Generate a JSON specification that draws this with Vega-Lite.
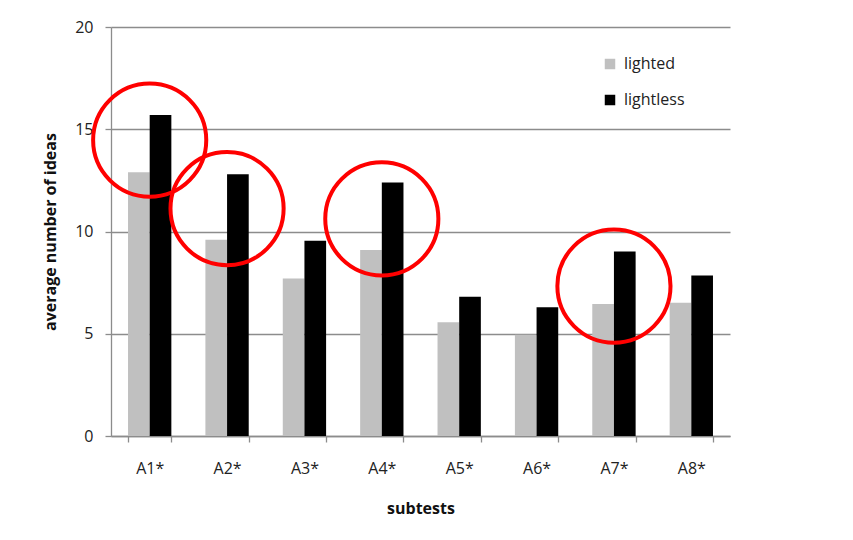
{
  "$schema": "https://vega.github.io/schema/vega-lite/v6.json",
  "width": 619,
  "height": 409,
  "autosize": {"type": "none"},
  "padding": {"left": 111, "top": 27, "right": 123, "bottom": 104},
  "background": "white",
  "datasets": {
    "ideas": [
      {"subtest": "A1*", "condition": "lighted", "ideas": 12.9},
      {"subtest": "A1*", "condition": "lightless", "ideas": 15.7},
      {"subtest": "A2*", "condition": "lighted", "ideas": 9.6},
      {"subtest": "A2*", "condition": "lightless", "ideas": 12.8},
      {"subtest": "A3*", "condition": "lighted", "ideas": 7.7},
      {"subtest": "A3*", "condition": "lightless", "ideas": 9.55},
      {"subtest": "A4*", "condition": "lighted", "ideas": 9.1},
      {"subtest": "A4*", "condition": "lightless", "ideas": 12.4},
      {"subtest": "A5*", "condition": "lighted", "ideas": 5.56},
      {"subtest": "A5*", "condition": "lightless", "ideas": 6.81},
      {"subtest": "A6*", "condition": "lighted", "ideas": 4.95},
      {"subtest": "A6*", "condition": "lightless", "ideas": 6.29},
      {"subtest": "A7*", "condition": "lighted", "ideas": 6.45},
      {"subtest": "A7*", "condition": "lightless", "ideas": 9.02},
      {"subtest": "A8*", "condition": "lighted", "ideas": 6.52},
      {"subtest": "A8*", "condition": "lightless", "ideas": 7.85}
    ],
    "highlights": [
      {"subtest": "A1*", "center": 14.47},
      {"subtest": "A2*", "center": 11.12},
      {"subtest": "A4*", "center": 10.62},
      {"subtest": "A7*", "center": 7.33}
    ]
  },
  "config": {
    "font": "Open Sans",
    "view": {"stroke": null},
    "axis": {
      "labelFont": "Open Sans",
      "labelFontSize": 16,
      "labelColor": "#222222",
      "titleFont": "Open Sans",
      "titleFontSize": 16,
      "titleFontWeight": "bold",
      "titleColor": "#111111",
      "domainColor": "#8c8c8c",
      "tickColor": "#8c8c8c",
      "gridColor": "#8c8c8c",
      "domainWidth": 1.3,
      "tickWidth": 1.3,
      "gridWidth": 1.3
    }
  },
  "layer": [
    {
      "data": {"name": "ideas"},
      "mark": {"type": "bar"},
      "encoding": {
        "x": {
          "field": "subtest",
          "type": "nominal",
          "sort": null,
          "scale": {"paddingInner": 0.44, "paddingOuter": 0.22},
          "axis": {
            "title": "subtests",
            "labelAngle": 0,
            "tickBand": "extent",
            "tickSize": 6,
            "labelPadding": 18,
            "titlePadding": 24,
            "grid": false
          }
        },
        "xOffset": {
          "field": "condition",
          "type": "nominal",
          "scale": {"domain": ["lighted", "lightless"], "paddingInner": 0}
        },
        "y": {
          "field": "ideas",
          "type": "quantitative",
          "scale": {"domain": [0, 20], "nice": false},
          "axis": {
            "title": "average number of ideas",
            "values": [0, 5, 10, 15, 20],
            "tickSize": 6,
            "labelPadding": 12,
            "titlePadding": 16,
            "grid": true
          }
        },
        "color": {
          "field": "condition",
          "type": "nominal",
          "scale": {"domain": ["lighted", "lightless"], "range": ["#c0c0c0", "#000000"]},
          "legend": {
            "title": null,
            "orient": "none",
            "legendX": 491,
            "legendY": 29,
            "padding": 0,
            "symbolType": "square",
            "symbolSize": 110,
            "symbolStrokeWidth": 0,
            "labelFont": "Open Sans",
            "labelFontSize": 16,
            "labelColor": "#222222",
            "labelOffset": 6,
            "rowPadding": 20
          }
        }
      }
    },
    {
      "data": {"name": "highlights"},
      "mark": {
        "type": "point",
        "shape": "circle",
        "filled": false,
        "stroke": "#ff0000",
        "strokeWidth": 4,
        "size": 12800,
        "opacity": 1
      },
      "encoding": {
        "x": {"field": "subtest", "type": "nominal", "sort": null},
        "y": {"field": "center", "type": "quantitative"}
      }
    }
  ]
}
